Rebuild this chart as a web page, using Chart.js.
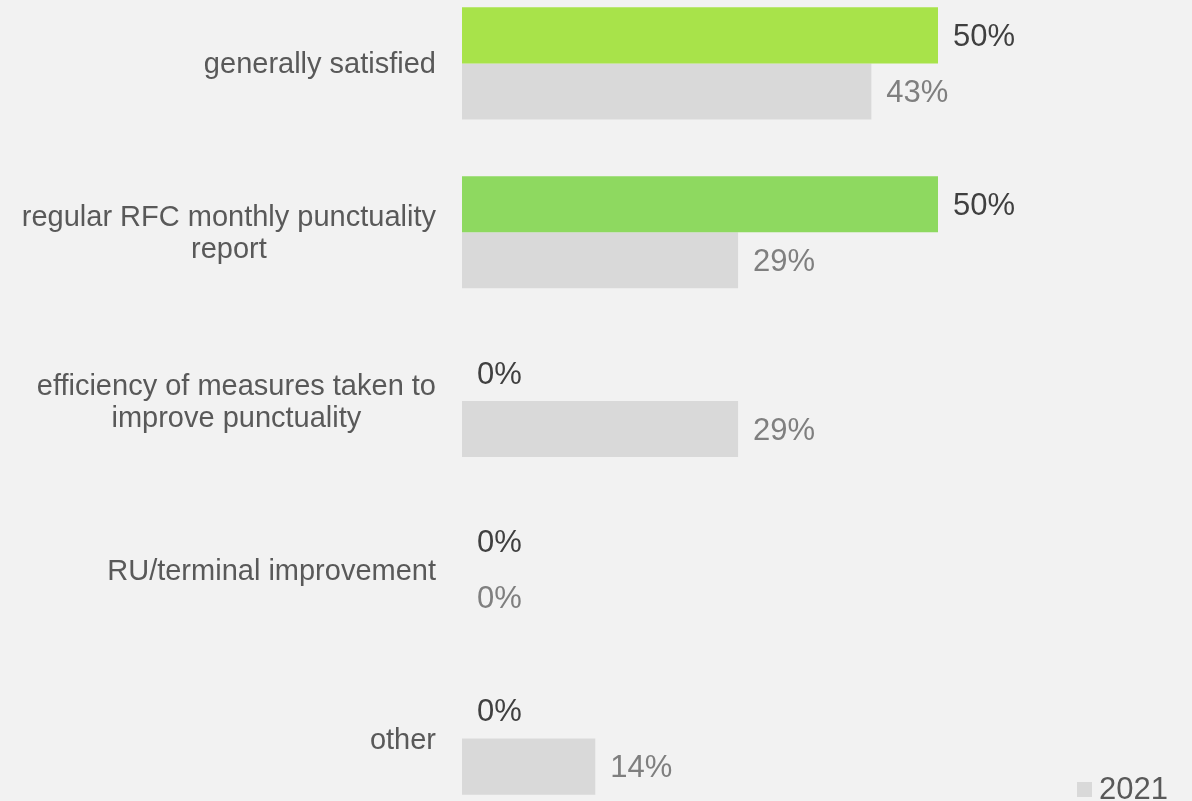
<!DOCTYPE html>
<html>
<head>
<meta charset="utf-8">
<script src="https://cdn.jsdelivr.net/npm/chart.js@4.4.1/dist/chart.umd.min.js"></script>
<style>
    html, body { margin: 0; padding: 0; background: #f2f2f2; overflow: hidden; }
    body { width: 1192px; height: 801px; position: relative; font-family: "Liberation Sans", Arial, sans-serif; }
    #chart-wrap { position: absolute; left: 0; top: -21px; width: 1192px; height: 844px; }
    #legend { position: absolute; left: 1077px; top: 773px; display: flex; align-items: center;
        font-size: 31px; line-height: 31px; color: #595959; }
    #legend .box { width: 15px; height: 15px; margin-right: 7px; margin-top: 2px; }
</style>
</head>
<body>
<div id="chart-wrap"><canvas id="surveyChart"></canvas></div>
<div id="legend"></div>

<script>
const categories = [
    ['generally satisfied'],
    ['regular RFC monthly punctuality', 'report'],
    ['efficiency of measures taken to', 'improve punctuality'],
    ['RU/terminal improvement'],
    ['other']
];
const values2022 = [50, 50, 0, 0, 0];
const values2021 = [43, 29, 29, 0, 14];
const seriesLabels = ['2022', '2021'];

const greens = ['#a8e34a', '#8ed960', '#74cf6c', '#5cc677', '#46bd82'];
const grey = '#d9d9d9';
const FONT = '"Liberation Sans", Arial, sans-serif';

// category names: block right-aligned to the bars, lines centred inside the block
const categoryLabels = {
    id: 'categoryLabels',
    afterDraw(chart) {
        const { ctx, scales: { y } } = chart;
        const right = chart.chartArea.left - 26;
        const lineH = 32;
        ctx.save();
        ctx.font = `29px ${FONT}`;
        ctx.fillStyle = '#595959';
        ctx.textAlign = 'center';
        ctx.textBaseline = 'middle';
        categories.forEach((lines, i) => {
            const maxW = Math.max(...lines.map(l => ctx.measureText(l).width));
            const cx = right - maxW / 2;
            const cy = y.getPixelForValue(i) + 2;
            const top = cy - (lines.length - 1) * lineH / 2;
            lines.forEach((l, k) => ctx.fillText(l, cx, top + k * lineH));
        });
        ctx.restore();
    }
};

// percentage next to each bar end
const valueLabels = {
    id: 'valueLabels',
    afterDatasetsDraw(chart) {
        const { ctx } = chart;
        const colors = ['#404040', '#7f7f7f'];
        ctx.save();
        ctx.font = `31px ${FONT}`;
        ctx.textAlign = 'left';
        ctx.textBaseline = 'middle';
        chart.data.datasets.forEach((ds, di) => {
            ctx.fillStyle = colors[di];
            chart.getDatasetMeta(di).data.forEach((bar, i) => {
                ctx.fillText(`${ds.data[i]}%`, bar.x + 15, bar.y + 2);
            });
        });
        ctx.restore();
    }
};

const ctx = document.getElementById('surveyChart').getContext('2d');
const chart = new Chart(ctx, {
    type: 'bar',
    data: {
        labels: categories,
        datasets: [
            { label: seriesLabels[0], data: values2022, backgroundColor: greens },
            { label: seriesLabels[1], data: values2021, backgroundColor: grey }
        ]
    },
    options: {
        indexAxis: 'y',
        responsive: true,
        maintainAspectRatio: false,
        animation: false,
        layout: { padding: { left: 462, right: 254, top: 0, bottom: 0 } },
        datasets: { bar: { categoryPercentage: 0.664, barPercentage: 1.0, borderWidth: 0 } },
        scales: {
            x: { display: false, min: 0, max: 50 },
            y: { display: false }
        },
        plugins: {
            legend: { display: false },
            tooltip: { enabled: false }
        }
    },
    plugins: [categoryLabels, valueLabels]
});

// only the 2021 key sits inside the visible area
const legendEl = document.getElementById('legend');
const ds = chart.data.datasets[1];
legendEl.innerHTML = `<span class="box" style="background:${ds.backgroundColor}"></span>${ds.label}`;
</script>
</body>
</html>
